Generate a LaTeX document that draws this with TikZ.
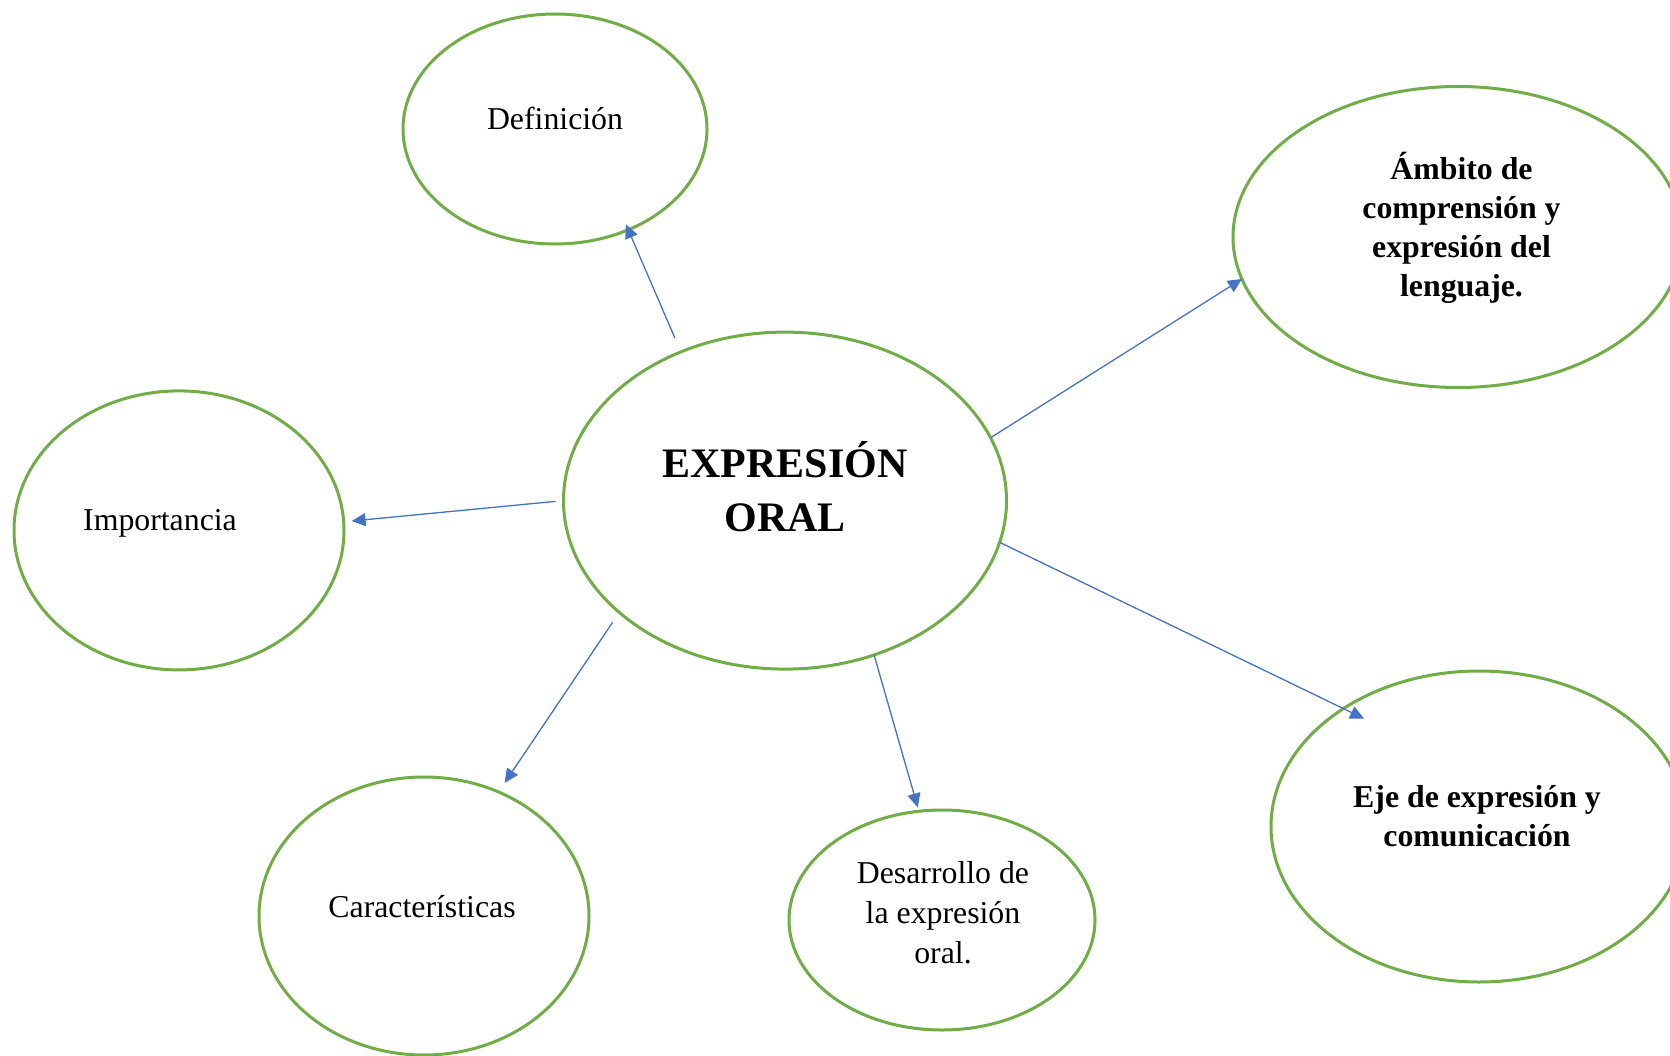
\documentclass[tikz,border=0pt]{standalone}
\usepackage{fontspec}
\setmainfont{Liberation Serif}
\usetikzlibrary{shapes.geometric,arrows.meta}
\definecolor{ogreen}{HTML}{70AD47}
\definecolor{oblue}{HTML}{4472C4}
\tikzset{
  ell/.style={ellipse, draw=ogreen, line width=3pt, inner sep=0pt, outer sep=0pt},
  conn/.style={draw=oblue, line width=1.3pt, -{Triangle[length=14pt,width=13pt]}},
  lbl/.style={anchor=base, inner sep=0pt, font=\fontsize{31.8}{39}\selectfont},
  lblw/.style={anchor=base, inner sep=0pt, font=\fontsize{31.8}{40}\selectfont},
  lblb/.style={anchor=base, inner sep=0pt, font=\fontsize{31.8}{39}\selectfont\bfseries},
  ttl/.style={anchor=base, inner sep=0pt, font=\fontsize{42}{54}\selectfont\bfseries}
}
\begin{document}
\begin{tikzpicture}[x=1pt,y=-1pt]
  \useasboundingbox (0,0) rectangle (1670,1055);
  \clip (0,0) rectangle (1670,1055);
  % ellipses
  \node[ell, minimum width=443pt, minimum height=337pt] (c) at (785,500.6) {};
  \node[ell, minimum width=304pt, minimum height=230pt] (def) at (555,129) {};
  \node[ell, minimum width=330pt, minimum height=279pt] (imp) at (179,530.4) {};
  \node[ell, minimum width=330pt, minimum height=278pt] (car) at (424,916) {};
  \node[ell, minimum width=306pt, minimum height=220pt] (des) at (942,920) {};
  \node[ell, minimum width=416pt, minimum height=311pt] (eje) at (1479,826.5) {};
  \node[ell, minimum width=450pt, minimum height=301pt] (amb) at (1458,237) {};
  % texts
  \node[ttl] (tc) at (785,477) {\begin{tabular}[t]{@{}c@{}}EXPRESIÓN\\ORAL\end{tabular}};
  \node[lbl] (tdef) at (555,129) {Definición};
  \node[lbl] (timp) at (160,530) {Importancia};
  \node[lbl] (tcar) at (422,917) {Características};
  \node[lblw] (tdes) at (943,883.7) {\begin{tabular}[t]{@{}c@{}}Desarrollo de\\la expresión\\oral.\end{tabular}};
  \node[lblb] (teje) at (1477,807) {\begin{tabular}[t]{@{}c@{}}Eje de expresión y\\comunicación\end{tabular}};
  \node[lblb] (tamb) at (1461.5,179) {\begin{tabular}[t]{@{}c@{}}Ámbito de\\comprensión y\\expresión del\\lenguaje.\end{tabular}};
  % connectors
  \draw[conn, shorten <=15pt, shorten >=-6pt] (c.125.3) -- (def.-54.3);
  \draw[conn, shorten <=8pt, shorten >=8pt] (c.180) -- (imp.3.8);
  \draw[conn, shorten <=12pt, shorten >=11pt] (c.214.8) -- (car.59.5);
  \draw[conn, shorten >=4pt] (c.-60.8) -- (des.102);
  \draw[conn, shorten >=-23pt] (c.-11.7) -- (eje.139.8);
  \draw[conn] (c.17.1) -- (amb.191.2);
\end{tikzpicture}
\end{document}
